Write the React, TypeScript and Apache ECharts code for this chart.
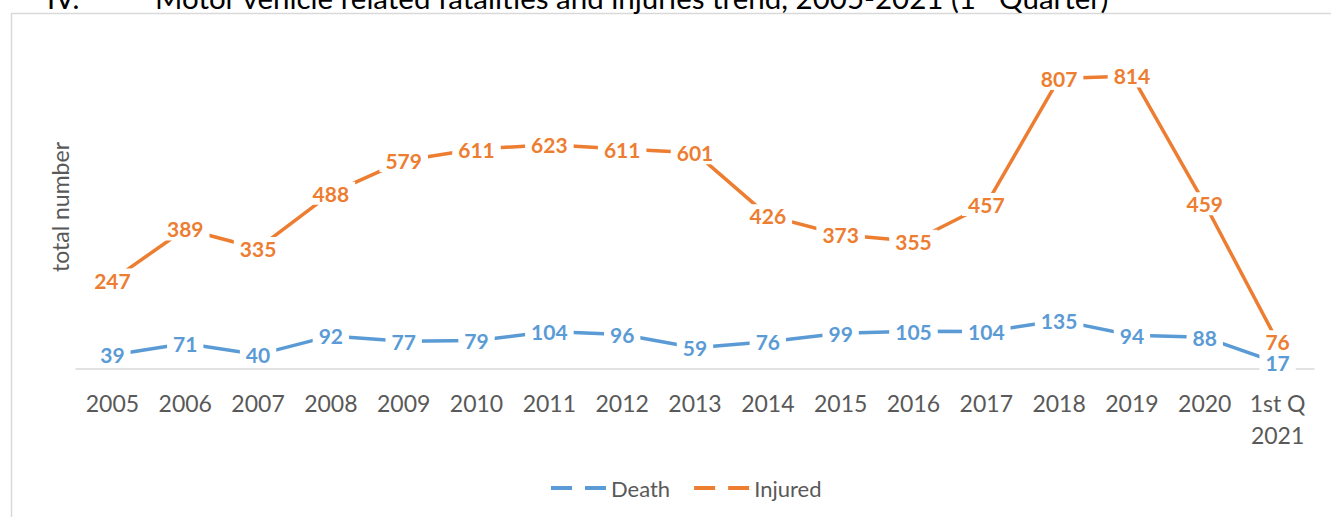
import React, { useEffect, useRef } from "react";
import * as echarts from "echarts";

const categories = ["2005","2006","2007","2008","2009","2010","2011","2012","2013","2014","2015","2016","2017","2018","2019","2020","1st Q\n2021"];
const deathValues = [39,71,40,92,77,79,104,96,59,76,99,105,104,135,94,88,17];
const injuredValues = [247,389,335,488,579,611,623,611,601,426,373,355,457,807,814,459,76];

const FONT = "Lato, 'Open Sans', sans-serif";
const BLUE = "#5B9BD5";
const ORANGE = "#ED7D31";
const GRAY = "#595959";

export default function App() {
  const ref = useRef<HTMLDivElement>(null);
  useEffect(() => {
    if (!ref.current) return;
    const chart = echarts.init(ref.current, null, { renderer: "svg" });
    const mkSeries = (name: string, data: number[], color: string) => ({
      name,
      type: "line",
      data,
      symbol: "circle",
      symbolSize: 0.1,
      showSymbol: true,
      itemStyle: { color },
      lineStyle: { color, width: 3.5 },
      label: {
        show: true,
        position: "inside",
        color,
        fontFamily: FONT,
        fontWeight: "bold",
        fontSize: 21,
        backgroundColor: "#ffffff",
        padding: [1, 6],
      },
      emphasis: { disabled: true },
    });
    chart.setOption({
      animation: false,
      backgroundColor: "#ffffff",
      grid: { left: 76, right: 17, top: 45, bottom: 148, containLabel: false },
      xAxis: {
        type: "category",
        data: categories,
        boundaryGap: true,
        axisLine: { show: true, lineStyle: { color: "#d9d9d9", width: 1.5 } },
        axisTick: { show: false },
        axisLabel: {
          color: GRAY,
          fontFamily: FONT,
          fontSize: 23,
          margin: 18,
          lineHeight: 32,
          interval: 0,
        },
      },
      yAxis: {
        type: "value",
        min: 0,
        max: 900,
        axisLabel: { show: false },
        axisLine: { show: false },
        axisTick: { show: false },
        splitLine: { show: false },
        name: "total number",
        nameLocation: "middle",
        nameGap: 5,
        nameTextStyle: { color: GRAY, fontFamily: FONT, fontSize: 23 },
      },
      legend: {
        top: 472,
        left: 546,
        itemWidth: 55,
        itemHeight: 4,
        itemGap: 24,
        textStyle: { color: GRAY, fontFamily: FONT, fontSize: 22 },
        data: [
          { name: "Death", icon: "path://M0,0H21V4H0ZM34,0H55V4H34Z", itemStyle: { color: BLUE } },
          { name: "Injured", icon: "path://M0,0H21V4H0ZM34,0H55V4H34Z", itemStyle: { color: ORANGE } },
        ],
      },
      graphic: [
        {
          type: "rect",
          silent: true,
          shape: { x: 11.5, y: 13.5, width: 1400, height: 600 },
          style: { fill: "none", stroke: "#d9d9d9", lineWidth: 1.5 },
        },
        {
          type: "text",
          silent: true,
          x: 47,
          y: 12,
          style: {
            text: "IV.",
            font: `29px ${FONT}`,
            fill: "#000000",
            verticalAlign: "bottom",
          },
        },
        {
          type: "text",
          silent: true,
          x: 155,
          y: 12,
          style: {
            text: "{a|Motor vehicle related fatalities and injuries trend, 2005-2021 (1}{s|st}{a| Quarter)}",
            fill: "#000000",
            verticalAlign: "bottom",
            rich: {
              a: { fontFamily: FONT, fontSize: 29.5, color: "#000000" },
              s: { fontFamily: FONT, fontSize: 18, color: "#000000", verticalAlign: "top" },
            },
          },
        },
      ],
      series: [mkSeries("Death", deathValues, BLUE), mkSeries("Injured", injuredValues, ORANGE)],
    });
    return () => chart.dispose();
  }, []);
  return (
    <div
      ref={ref}
      style={{ position: "absolute", left: 0, top: 0, width: 1331, height: 517 }}
    />
  );
}
